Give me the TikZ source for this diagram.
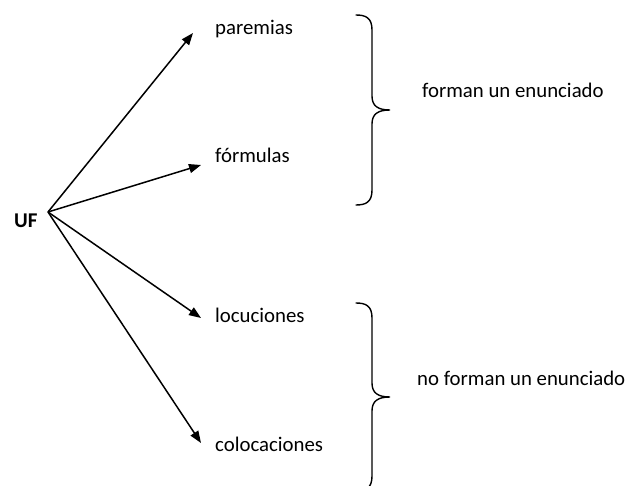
\documentclass[tikz,border=0pt]{standalone}
\usepackage{fontspec}
\setmainfont{Carlito}
\usetikzlibrary{arrows.meta}
\begin{document}
\begin{tikzpicture}[x=1pt,y=-1pt,
  lbl/.style={anchor=base west,inner sep=0pt,font=\fontsize{20.8}{24}\selectfont},
  arr/.style={line width=1.5pt,-{Triangle[length=12pt,width=9pt]}},
  brace/.style={line width=1.4pt,line cap=round}]
\useasboundingbox (0,0) rectangle (627,486);
\clip (0,0) rectangle (627,486);
% root
\node[lbl,font=\fontsize{21}{24}\selectfont\bfseries] (uf) at (14,228) {UF};
\coordinate (o) at (48,212);
% leaves
\node[lbl] (par) at (215,35) {paremias};
\node[lbl] (form) at (215,163) {fórmulas};
\node[lbl] (loc) at (215,323) {locuciones};
\node[lbl] (col) at (215,451) {colocaciones};
% arrow tips
\coordinate (tpar) at (193,33);
\coordinate (tform) at (201,165);
\coordinate (tloc) at (201,318);
\coordinate (tcol) at (201,443);
\draw[arr] (o) -- (tpar);
\draw[arr] (o) -- (tform);
\draw[arr] (o) -- (tloc);
\draw[arr] (o) -- (tcol);
% braces
\draw[brace] (356,15) .. controls (366,15) and (372,18) .. (372,30)
  -- (372,96) .. controls (372,106) and (378,110) .. (390,110)
  .. controls (378,110) and (372,114) .. (372,124)
  -- (372,190) .. controls (372,202) and (366,205) .. (356,205);
\draw[brace] (356,303) .. controls (366,303) and (372,306) .. (372,318)
  -- (372,383) .. controls (372,393) and (378,397) .. (390,397)
  .. controls (378,397) and (372,401) .. (372,411)
  -- (372,476) .. controls (372,488) and (366,491) .. (356,491);
\node[lbl] (f1) at (422,98) {forman un enunciado};
\node[lbl] (f2) at (417,386) {no forman un enunciado};
\end{tikzpicture}
\end{document}
